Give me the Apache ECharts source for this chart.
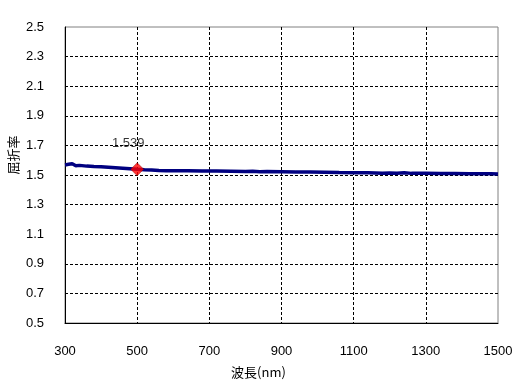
<!DOCTYPE html>
<html>
<head>
<meta charset="utf-8">
<script src="https://cdn.jsdelivr.net/npm/echarts@6/dist/echarts.min.js"></script>
<style>
html, body { margin: 0; padding: 0; background: #fff; }
#chart { width: 521px; height: 389px; }
</style>
</head>
<body>
<div id="chart"></div>
<script>
// wavelength (nm) and refractive index
const wavelengths = [
  300, 310, 320, 330, 340, 360, 380, 400, 420, 440, 460, 480, 500,
  520, 540, 560, 580, 600, 640, 680, 720, 760, 800, 820, 840, 860,
  900, 940, 980, 1020, 1060, 1100, 1140, 1180, 1200, 1220, 1240, 1260,
  1300, 1340, 1380, 1420, 1460, 1480, 1500
];
const refIndex = [
  1.568, 1.572, 1.576, 1.563, 1.565, 1.560, 1.557, 1.555, 1.552, 1.549, 1.546, 1.543, 1.539,
  1.536, 1.534, 1.530, 1.529, 1.528, 1.528, 1.527, 1.527, 1.526, 1.524, 1.526, 1.522, 1.523,
  1.522, 1.521, 1.520, 1.519, 1.517, 1.516, 1.515, 1.512, 1.514, 1.512, 1.515, 1.511,
  1.511, 1.510, 1.510, 1.509, 1.508, 1.509, 1.507
];
const markerPoint = [500, 1.539];

const xTicks = { min: 300, max: 1500, interval: 200 };
const yTicks = { min: 0.5, max: 2.5, interval: 0.2 };

const chart = echarts.init(document.getElementById('chart'));

const font = 'Arial, "Liberation Sans", sans-serif';

const option = {
  backgroundColor: '#fff',
  animation: false,
  grid: {
    left: 65,
    right: 23,
    top: 27,
    bottom: 66,
    containLabel: false,
    outerBoundsMode: 'none',
    show: true,
    borderColor: '#808080',
    borderWidth: 1,
  },
  xAxis: {
    type: 'value',
    min: xTicks.min,
    max: xTicks.max,
    interval: xTicks.interval,
    name: '波長(nm)',
    nameLocation: 'middle',
    nameGap: 43,
    nameTextStyle: {
      fontFamily: '"Noto Sans CJK JP", sans-serif',
      fontSize: 13,
      color: '#000',
      padding: [0, 46, 0, 0],
    },
    axisLine: { lineStyle: { color: '#000', width: 1 } },
    axisTick: { show: false },
    axisLabel: {
      margin: 22,
      fontFamily: font,
      fontSize: 13,
      color: '#000',
      formatter: (v) => String(v),
    },
    splitLine: {
      show: true,
      showMinLine: false,
      showMaxLine: false,
      lineStyle: { color: '#000', type: [3, 2], width: 1 },
    },
  },
  yAxis: {
    type: 'value',
    min: yTicks.min,
    max: yTicks.max,
    interval: yTicks.interval,
    name: '屈折率',
    nameLocation: 'middle',
    nameGap: 45,
    nameMoveOverlap: false,
    nameRotate: 90,
    nameTextStyle: {
      fontFamily: '"Noto Sans CJK JP", sans-serif',
      fontSize: 13,
      color: '#000',
      padding: [0, 0, 0, 40],
    },
    axisLine: { show: true, lineStyle: { color: '#000', width: 1 } },
    axisTick: { show: false },
    axisLabel: {
      margin: 21,
      fontFamily: font,
      fontSize: 13,
      color: '#000',
      formatter: (v) => v.toFixed(1),
    },
    splitLine: {
      show: true,
      showMinLine: false,
      showMaxLine: false,
      lineStyle: { color: '#000', type: [3, 2], width: 1 },
    },
  },
  series: [
    {
      type: 'line',
      data: wavelengths.map((w, i) => [w, refIndex[i]]),
      showSymbol: false,
      symbol: 'none',
      lineStyle: { color: '#000080', width: 3.5 },
      z: 3,
    },
    {
      type: 'scatter',
      data: [markerPoint],
      symbol: 'diamond',
      symbolSize: [13, 13],
      itemStyle: { color: '#ff0000', borderColor: '#800000', borderWidth: 0.5 },
      label: {
        show: true,
        position: 'top',
        distance: 13,
        offset: [-9, 0],
        formatter: (p) => p.value[1].toFixed(3),
        fontFamily: font,
        fontSize: 13,
        color: '#000',
      },
      z: 4,
    },
  ],
};

chart.setOption(option);
</script>
</body>
</html>
